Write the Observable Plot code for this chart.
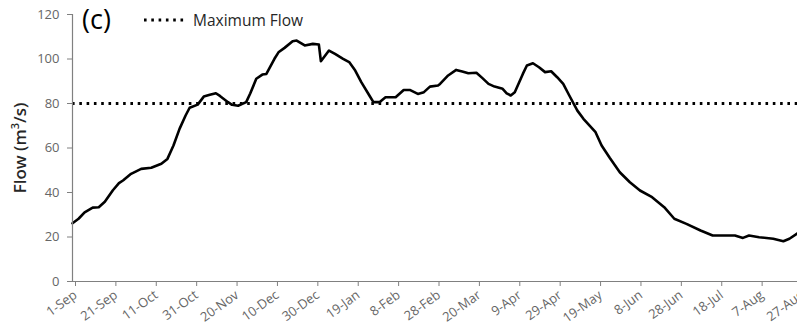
<!DOCTYPE html>
<html>
<head>
<meta charset="utf-8">
<script src="https://cdn.jsdelivr.net/npm/d3@7"></script>
<script src="https://cdn.jsdelivr.net/npm/@observablehq/plot@0.6"></script>
<style>
  html, body { margin: 0; padding: 0; background: #fff; }
  #wrap { position: relative; width: 797px; height: 326px; overflow: hidden; }
  #wrap svg { overflow: visible; }
  .panel { position: absolute; left: 82px; top: 0px; font: 27px "Open Sans", sans-serif; color: #000; }
  .legend { position: absolute; left: 143px; top: 9px; display: flex; align-items: center; font: 15.5px "Open Sans", sans-serif; color: #262626; }
  .legend svg { margin-right: 8px; }
  .ylabel { position: absolute; left: 19px; top: 148px; transform: translate(-50%, -50%) rotate(-90deg); white-space: nowrap;
            font: 600 17px "Open Sans", sans-serif; color: #262626; }
</style>
</head>
<body>
<div id="wrap"></div>
<script>
// Daily river flow over a water year (Sep to Aug), sampled along the hydrograph
const dates = [
  "2010-09-01","2010-09-04","2010-09-07","2010-09-11","2010-09-14","2010-09-17","2010-09-21","2010-09-24",
  "2010-09-26","2010-09-30","2010-10-05","2010-10-10","2010-10-15","2010-10-18","2010-10-21","2010-10-24",
  "2010-10-27","2010-10-29","2010-11-02","2010-11-05","2010-11-08","2010-11-11","2010-11-13","2010-11-17",
  "2010-11-19","2010-11-22","2010-11-26","2010-11-28","2010-12-01","2010-12-04","2010-12-06","2010-12-10",
  "2010-12-12","2010-12-15","2010-12-19","2010-12-21","2010-12-25","2010-12-29","2011-01-01","2011-01-02",
  "2011-01-06","2011-01-09","2011-01-13","2011-01-16","2011-01-19","2011-01-22","2011-01-26","2011-01-28",
  "2011-01-31","2011-02-03","2011-02-08","2011-02-12","2011-02-15","2011-02-19","2011-02-22","2011-02-25",
  "2011-03-01","2011-03-02","2011-03-06","2011-03-10","2011-03-13","2011-03-16","2011-03-20","2011-03-23",
  "2011-03-26","2011-03-29","2011-04-02","2011-04-04","2011-04-06","2011-04-08","2011-04-12","2011-04-14",
  "2011-04-17","2011-04-20","2011-04-23","2011-04-26","2011-04-29","2011-05-02","2011-05-05","2011-05-09",
  "2011-05-12","2011-05-18","2011-05-21","2011-05-25","2011-05-30","2011-06-04","2011-06-09","2011-06-15",
  "2011-06-21","2011-06-26","2011-07-02","2011-07-09","2011-07-15","2011-07-26","2011-07-30","2011-08-02",
  "2011-08-07","2011-08-14","2011-08-19","2011-08-22","2011-08-26"
];
const flow = [
  26.2, 28.2, 31.1, 33.2, 33.4, 35.8, 41.0, 44.2,
  45.4, 48.4, 50.6, 51.1, 52.9, 55.1, 61.1, 68.6,
  74.6, 78.1, 79.5, 83.1, 83.9, 84.6, 83.4, 80.6,
  79.4, 79.0, 80.6, 84.5, 91.1, 93.0, 93.3, 100.1,
  103.0, 105.0, 108.0, 108.3, 106.1, 106.8, 106.5, 99.0,
  103.8, 102.3, 100.1, 98.6, 94.8, 89.6, 83.6, 80.6,
  80.6, 82.8, 82.8, 86.1, 86.1, 84.3, 85.1, 87.6,
  88.1, 88.8, 92.6, 95.1, 94.4, 93.6, 93.8, 91.4,
  88.8, 87.6, 86.6, 84.6, 83.6, 85.1, 93.3, 97.1,
  98.1, 96.3, 94.1, 94.5, 91.8, 88.8, 83.6, 76.8,
  73.1, 67.1, 61.1, 55.6, 49.1, 44.6, 40.9, 37.9,
  33.4, 28.2, 25.9, 22.9, 20.7, 20.7, 19.6, 20.7,
  19.9, 19.2, 18.1, 19.2, 21.7
];
const maxFlow = 80;
const xTicks = [
  "2010-09-01","2010-09-21","2010-10-11","2010-10-31","2010-11-20","2010-12-10","2010-12-30",
  "2011-01-19","2011-02-08","2011-02-28","2011-03-20","2011-04-09","2011-04-29","2011-05-19",
  "2011-06-08","2011-06-28","2011-07-18","2011-08-07","2011-08-27"
];
const yTicks = [0, 20, 40, 60, 80, 100, 120];
const xStart = "2010-09-01";
const xEnd = "2011-08-26";

const parse = d3.utcParse("%Y-%m-%d");
const series = dates.map((d, i) => ({date: parse(d), flow: flow[i]}));

const chart = Plot.plot({
  width: 797,
  height: 326,
  marginLeft: 72,
  marginRight: 0,
  marginTop: 14,
  marginBottom: 45,
  style: {fontFamily: "Open Sans, sans-serif", background: "#fff", overflow: "visible"},
  x: {type: "utc", domain: [parse(xStart), parse(xEnd)]},
  y: {domain: [0, 120]},
  marks: [
    Plot.ruleY([maxFlow], {stroke: "#000", strokeWidth: 3, strokeDasharray: "2.6 4.7"}),
    Plot.lineY(series, {x: "date", y: "flow", stroke: "#000", strokeWidth: 2.6, strokeLinejoin: "round"}),
    Plot.ruleX([parse(xStart)], {stroke: "#808080", strokeWidth: 1.2}),
    Plot.ruleY([0], {stroke: "#808080", strokeWidth: 1.2}),
    Plot.axisY({ticks: yTicks, tickSize: 5, tickPadding: 8, fontSize: 13, stroke: "#808080", fill: "#666", label: null}),
    Plot.axisX({ticks: xTicks.map(parse), tickFormat: d3.utcFormat("%-d-%b"), tickRotate: -36,
                tickSize: 5, tickPadding: 7, dx: 3, fontSize: 13, stroke: "#808080", fill: "#666", label: null})
  ]
});

const wrap = document.getElementById("wrap");
wrap.appendChild(chart);

const panel = document.createElement("div");
panel.className = "panel";
panel.textContent = "(c)";
wrap.appendChild(panel);

const legend = document.createElement("div");
legend.className = "legend";
legend.innerHTML = '<svg width="42" height="6"><line x1="1" y1="3" x2="42" y2="3" stroke="#000" stroke-width="3" stroke-dasharray="2.6 4.7"/></svg><span>Maximum Flow</span>';
wrap.appendChild(legend);

const ylabel = document.createElement("div");
ylabel.className = "ylabel";
ylabel.innerHTML = "Flow (m<sup style='font-size:0.65em'>3</sup>/s)";
wrap.appendChild(ylabel);
</script>
</body>
</html>
